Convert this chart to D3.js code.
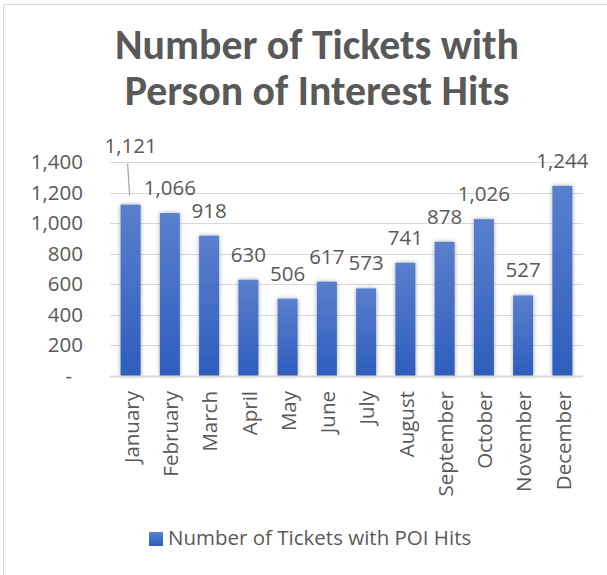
<!DOCTYPE html>
<html>
<head>
<meta charset="utf-8">
<script src="https://cdn.jsdelivr.net/npm/d3@7"></script>
<style>
  body { margin: 0; background: #fff; }
  svg text { font-family: "Open Sans", Carlito, Calibri, sans-serif; fill: #595959; }
  svg text.title { font-family: Carlito, Calibri, Lato, sans-serif; }
</style>
</head>
<body>
<div id="chart"></div>
<script>
var months = ["January", "February", "March", "April", "May", "June", "July",
    "August", "September", "October", "November", "December"];
var poiHits = [1121, 1066, 918, 630, 506, 617, 573, 741, 878, 1026, 527, 1244];
var yTicks = [0, 200, 400, 600, 800, 1000, 1200, 1400];
var titleLines = ["Number of Tickets with", "Person of Interest Hits"];
var seriesName = "Number of Tickets with POI Hits";

var W = 607, H = 575;
var margin = {top: 162, right: 24, bottom: 199, left: 110};
var width = W - margin.left - margin.right;
var height = H - margin.top - margin.bottom;
var fontPx = "20.5px";

var svg = d3.select("#chart").append("svg")
    .attr("width", W)
    .attr("height", H);

var defs = svg.append("defs");
var grad = defs.append("linearGradient")
    .attr("id", "barGrad")
    .attr("x1", 0).attr("y1", 0).attr("x2", 0).attr("y2", 1);
grad.append("stop").attr("offset", "0%").attr("stop-color", "#5a7fcd");
grad.append("stop").attr("offset", "100%").attr("stop-color", "#2d5dbd");

var shadow = defs.append("filter").attr("id", "shadow")
    .attr("x", "-50%").attr("y", "-10%").attr("width", "200%").attr("height", "120%");
shadow.append("feDropShadow")
    .attr("dx", 0).attr("dy", 0)
    .attr("stdDeviation", 2.2)
    .attr("flood-color", "#000")
    .attr("flood-opacity", 0.35);

// chart border (only left and top visible in the picture)
svg.append("rect")
    .attr("x", 3.5).attr("y", 4.5)
    .attr("width", 640).attr("height", 620)
    .attr("fill", "none")
    .attr("stroke", "#d9d9d9");

// title
var title = svg.append("g");
titleLines.forEach(function(t, i) {
    title.append("text")
        .attr("class", "title")
        .attr("x", 317)
        .attr("y", 59 + i * 46)
        .attr("text-anchor", "middle")
        .style("font-size", "30px")
        .style("font-weight", "bold")
        .text(t);
});
// fit title width to the reference (first line ~404px)
var tl = title.select("text").node().getComputedTextLength();
title.selectAll("text").style("font-size", (30 * 404 / tl) + "px");

var g = svg.append("g")
    .attr("transform", "translate(" + margin.left + "," + margin.top + ")");

var x = d3.scaleBand()
    .domain(months)
    .range([0, width])
    .paddingInner(0.49)
    .paddingOuter(0.27);

var y = d3.scaleLinear()
    .domain([0, 1400])
    .range([height, 0]);

// gridlines
g.append("g")
    .selectAll("line")
    .data(yTicks.slice(1))
    .enter()
    .append("line")
    .attr("x1", 0).attr("x2", width)
    .attr("y1", function(d) { return Math.round(y(d)) + 0.5; })
    .attr("y2", function(d) { return Math.round(y(d)) + 0.5; })
    .attr("stroke", "#d9d9d9")
    .attr("stroke-width", 1);

// y axis
var yAxis = g.append("g")
    .call(d3.axisLeft(y).tickValues(yTicks).tickSize(0).tickPadding(27)
        .tickFormat(function(d) { return d === 0 ? "-" : d3.format(",")(d); }));
yAxis.select(".domain").remove();
yAxis.selectAll("text")
    .style("font-size", fontPx)
    .attr("fill", "#595959")
    .attr("dx", function(d) { return d === 0 ? -11 : 0; });

// bars
g.append("g")
    .selectAll("rect")
    .data(poiHits)
    .enter()
    .append("rect")
    .attr("x", function(d, i) { return x(months[i]); })
    .attr("y", function(d) { return y(d); })
    .attr("width", x.bandwidth())
    .attr("height", function(d) { return height - y(d); })
    .attr("fill", "url(#barGrad)")
    .attr("filter", "url(#shadow)");

// x axis line
g.append("line")
    .attr("x1", 0).attr("x2", width)
    .attr("y1", height + 0.5).attr("y2", height + 0.5)
    .attr("stroke", "#d9d9d9")
    .attr("stroke-width", 2);

// x axis labels
var xAxis = g.append("g")
    .attr("transform", "translate(0," + height + ")")
    .call(d3.axisBottom(x).tickSize(0));
xAxis.select(".domain").remove();
xAxis.selectAll("text")
    .style("font-size", fontPx)
    .attr("fill", "#595959")
    .attr("text-anchor", "end")
    .attr("transform", "translate(0,15) rotate(-90)")
    .attr("x", 0)
    .attr("y", 0)
    .attr("dy", "0.4em");

// data labels; January's label sits higher with a leader line
var labelLift = [52, 18, 18, 18, 18, 18, 18, 18, 18, 18, 18, 18];
var labels = g.append("g");
labels.selectAll("text")
    .data(poiHits)
    .enter()
    .append("text")
    .attr("x", function(d, i) { return x(months[i]) + x.bandwidth() / 2; })
    .attr("y", function(d, i) { return y(d) - labelLift[i]; })
    .attr("text-anchor", "middle")
    .style("font-size", fontPx)
    .text(function(d) { return d3.format(",")(d); });

// leader line for January
var jx = x(months[0]) + x.bandwidth() / 2;
g.append("line")
    .attr("x1", jx - 3).attr("y1", y(poiHits[0]) - 41)
    .attr("x2", jx - 1).attr("y2", y(poiHits[0]) - 9)
    .attr("stroke", "#a6a6a6")
    .attr("stroke-width", 1.2);

// legend
var legend = svg.append("g").attr("transform", "translate(149,532)");
legend.append("rect")
    .attr("width", 14).attr("height", 14)
    .attr("fill", "url(#barGrad)");
legend.append("text")
    .attr("x", 19)
    .attr("y", 13)
    .style("font-size", fontPx)
    .text(seriesName);
</script>
</body>
</html>
